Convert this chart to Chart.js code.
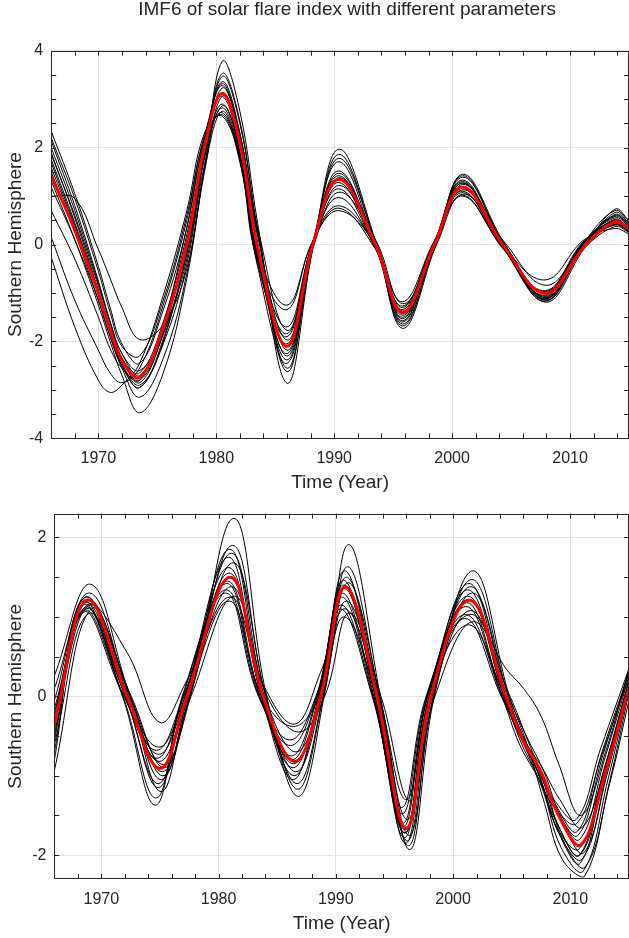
<!DOCTYPE html>
<html>
<head>
<meta charset="utf-8">
<title>IMF6 of solar flare index</title>
<script src="https://cdn.jsdelivr.net/npm/chart.js@4.4.1/dist/chart.umd.min.js"></script>
<style>
  html, body { margin: 0; padding: 0; background: #fff; }
  #wrap { position: relative; width: 629px; height: 938px; }
  canvas { position: absolute; left: 0; }
  #top { top: 0; }
  #bottom { top: 496px; }
</style>
</head>
<body>
<div id="wrap">
  <canvas id="top" width="629" height="496"></canvas>
  <canvas id="bottom" width="629" height="442"></canvas>
</div>
<script>
const TITLE = 'IMF6 of solar flare index with different parameters';
const X_LABEL = 'Time (Year)';
const Y_LABEL = 'Southern Hemisphere';
const X_TICKS = [1970, 1980, 1990, 2000, 2010];
const TOP_Y_TICKS = [-4, -2, 0, 2, 4];
const BOTTOM_Y_TICKS = [-2, 0, 2];

const topYears = [1966, 1968, 1970, 1971, 1972, 1973.5, 1975.5, 1977.5, 1979, 1980.5, 1982, 1983.5, 1986, 1988.2, 1990.4, 1993.5, 1995.8, 1998.5, 2000.9, 2004.3, 2007.9, 2011.2, 2013.8, 2015];
const topRed = [1.42, 0.3, -1.0, -1.75, -2.38, -2.74, -1.7, 0.0, 2.0, 3.12, 2.1, -0.05, -2.1, 0.0, 1.35, 0.0, -1.4, 0.0, 1.18, 0.0, -1.01, -0.05, 0.47, 0.33];
const top01 = [2.34, 1.05, -0.45, -1.30, -2.05, -2.45, -1.35, 0.35, 2.20, 3.28, 2.15, -0.25, -2.25, 0.05, 1.52, -0.05, -1.50, 0.05, 1.30, -0.05, -1.05, 0.05, 0.55, 0.38];
const top02 = [2.20, 0.95, -0.55, -1.40, -2.10, -2.30, -1.15, 0.60, 2.25, 3.06, 1.90, -0.40, -1.90, 0.08, 1.28, -0.08, -1.34, 0.08, 1.16, -0.06, -0.99, 0.06, 0.50, 0.36];
const top03 = [2.14, 0.80, -0.75, -1.60, -2.35, -2.85, -1.85, -0.20, 1.90, 3.53, 2.55, 0.30, -2.55, -0.05, 1.86, 0.06, -1.64, -0.05, 1.42, 0.05, -1.15, -0.04, 0.66, 0.45];
const top04 = [2.00, 0.70, -0.80, -1.60, -2.25, -2.70, -1.70, 0.05, 2.05, 3.36, 2.30, 0.05, -2.30, 0.00, 1.47, 0.00, -1.46, 0.00, 1.27, 0.00, -1.07, 0.00, 0.52, 0.34];
const top05 = [1.90, 0.55, -0.95, -1.75, -2.40, -2.80, -1.85, -0.30, 1.80, 3.23, 2.30, 0.20, -2.18, -0.04, 1.38, 0.08, -1.43, -0.08, 1.24, 0.06, -1.10, -0.05, 0.45, 0.30];
const top06 = [1.86, 0.60, -0.85, -1.60, -2.25, -2.60, -1.80, 0.10, 1.85, 2.90, 1.90, -0.30, -1.84, 0.06, 1.15, -0.08, -1.27, 0.06, 1.10, -0.08, -0.95, 0.08, 0.42, 0.28];
const top07 = [1.76, 0.45, -1.00, -1.80, -2.50, -2.95, -1.95, -0.15, 1.85, 3.47, 2.50, 0.30, -2.62, -0.03, 1.78, 0.05, -1.68, -0.04, 1.39, 0.04, -1.14, -0.03, 0.62, 0.42];
const top08 = [1.69, 0.40, -0.95, -1.70, -2.35, -2.65, -1.60, 0.20, 2.05, 3.32, 2.20, -0.10, -2.38, 0.03, 1.42, -0.03, -1.40, 0.03, 1.27, -0.03, -1.09, 0.03, 0.48, 0.32];
const top09 = [1.59, 0.35, -1.05, -1.80, -2.45, -2.90, -2.05, -0.40, 1.65, 2.86, 2.05, 0.35, -1.77, -0.06, 1.08, 0.10, -1.22, -0.09, 1.04, 0.09, -0.84, -0.06, 0.37, 0.25];
const top10 = [1.50, 0.25, -1.15, -1.90, -2.55, -3.15, -2.35, -0.60, 1.60, 3.78, 2.75, 0.45, -2.86, -0.08, 1.97, 0.09, -1.73, -0.10, 1.45, 0.08, -1.19, -0.08, 0.73, 0.50];
const top11 = [1.32, 0.10, -1.25, -2.00, -2.70, -3.47, -2.65, -0.70, 1.50, 3.06, 2.20, 0.20, -1.97, -0.05, 1.22, 0.05, -1.37, -0.06, 1.13, 0.05, -1.01, -0.05, 0.42, 0.28];
const top12 = [1.18, 0.10, -1.15, -1.90, -2.50, -2.95, -2.00, -0.10, 1.80, 2.82, 1.85, -0.20, -1.70, 0.05, 0.97, -0.06, -1.18, 0.08, 1.00, -0.04, -0.73, 0.10, 0.33, 0.22];
const top13 = [1.00, 0.95, -0.10, -0.70, -1.30, -1.96, -1.65, -0.50, 1.55, 2.75, 1.80, -0.15, -1.25, 0.08, 0.75, -0.10, -1.30, 0.05, 1.02, -0.08, -0.97, 0.05, 0.40, 0.26];
const top14 = [0.70, -0.30, -1.50, -2.15, -2.55, -2.80, -1.65, 0.35, 2.10, 2.72, 1.75, -0.35, -1.34, 0.08, 0.70, -0.03, -1.53, 0.05, 1.07, -0.03, -1.12, 0.03, 0.58, 0.40];
const top15 = [0.15, -1.15, -2.18, -2.65, -2.85, -2.55, -1.25, 0.50, 2.20, 2.68, 1.75, -0.30, -2.05, 0.05, 0.80, -0.05, -1.57, 0.03, 1.20, -0.03, -1.17, 0.04, 0.60, 0.42];
const top16 = [-0.26, -1.70, -2.80, -3.05, -2.90, -2.45, -1.05, 0.70, 2.30, 2.65, 1.70, -0.45, -2.45, 0.05, 1.71, -0.03, -1.60, 0.04, 1.33, -0.05, -1.12, 0.05, 0.70, 0.48];

// lower panel
const bottomYears = [1966, 1968.8, 1972.2, 1975, 1977.3, 1981, 1983.8, 1986.5, 1988.7, 1990.8, 1993.5, 1996, 1998.1, 2001.4, 2004.5, 2006, 2007.5, 2009, 2010.9, 2013, 2015];
const bottomRed = [-0.36, 1.21, 0.0, -0.91, 0.0, 1.5, 0.0, -0.82, 0.0, 1.38, 0.0, -1.66, 0.0, 1.21, 0.0, -0.56, -0.95, -1.5, -1.87, -0.95, 0.11];
const bot01 = [-0.20, 1.15, 0.55, -0.33, 0.20, 1.25, 0.15, -0.35, 0.30, 1.10, 0.10, -1.30, 0.15, 1.03, 0.35, 0.10, -0.25, -0.85, -1.50, -0.70, 0.35];
const bot02 = [0.26, 1.41, 0, -0.86, 0, 2.24, 0, -1.26, 0, 1.91, 0, -1.93, 0, 1.58, 0, -0.60, -1.35, -2.05, -2.27, -1.10, 0.05];
const bot03 = [0.10, 1.30, 0, -0.95, 0, 1.90, 0, -1.10, 0, 1.63, 0, -1.88, 0, 1.47, 0, -0.65, -1.20, -1.90, -2.20, -1.05, 0.10];
const bot04 = [-0.05, 1.25, 0, -0.82, 0, 1.85, 0, -1.00, 0, 1.58, 0, -1.85, 0, 1.42, 0, -0.50, -1.05, -1.70, -2.10, -0.90, 0.20];
const bot05 = [-0.15, 1.22, 0, -1.05, 0, 1.80, 0, -0.95, 0, 1.50, 0, -1.82, 0, 1.38, 0, -0.55, -1.10, -1.75, -2.05, -1.00, 0.15];
const bot06 = [-0.25, 1.18, 0, -1.10, 0, 1.75, 0, -0.90, 0, 1.46, 0, -1.78, 0, 1.34, 0, -0.60, -1.05, -1.60, -2.00, -0.95, 0.10];
const bot07 = [-0.30, 1.15, 0, -1.00, 0, 1.68, 0, -1.17, 0, 1.43, 0, -1.75, 0, 1.30, 0, -0.50, -0.95, -1.55, -1.97, -0.85, 0.20];
const bot08 = [-0.40, 1.12, 0, -1.15, 0, 1.62, 0, -1.05, 0, 1.40, 0, -1.72, 0, 1.26, 0, -0.55, -1.00, -1.65, -1.92, -0.95, 0.10];
const bot09 = [-0.45, 1.10, 0, -0.73, 0, 1.55, 0, -0.85, 0, 1.36, 0, -1.68, 0, 1.22, 0, -0.50, -0.95, -1.45, -1.80, -0.80, 0.25];
const bot10 = [-0.50, 1.08, 0, -0.78, 0, 1.45, 0, -0.80, 0, 1.30, 0, -1.64, 0, 1.18, 0, -0.45, -0.90, -1.40, -1.75, -0.75, 0.30];
const bot11 = [-0.55, 1.06, 0, -0.68, 0, 1.42, 0, -0.75, 0, 1.25, 0, -1.60, 0, 1.13, 0, -0.50, -0.85, -1.35, -1.70, -0.70, 0.30];
const bot12 = [-0.60, 1.04, 0, -1.20, 0, 1.38, 0, -0.70, 0, 1.20, 0, -1.55, 0, 1.08, 0, -0.55, -0.90, -1.30, -1.65, -0.80, 0.20];
const bot13 = [-0.70, 1.15, 0, -1.28, 0, 1.34, 0, -0.62, 0, 1.15, 0, -1.48, 0, 1.03, 0, -0.60, -1.00, -1.40, -1.60, -0.75, 0.25];
const bot14 = [-0.80, 1.20, 0, -1.37, 0, 1.30, 0, -0.55, 0, 1.10, 0, -1.40, 0, 0.98, 0, -0.45, -0.90, -1.30, -1.55, -0.65, 0.35];
const bot15 = [-0.93, 1.10, 0, -0.90, 0, 1.26, 0, -0.45, 0, 1.05, 0, -1.32, 0, 0.94, 0, -0.55, -1.10, -1.80, -2.15, -1.10, -0.05];
const bot16 = [-0.35, 1.25, 0, -0.64, 0, 1.20, 0, -0.38, 0, 1.00, 0, -1.72, 0, 0.90, 0, -0.50, -0.95, -1.60, -2.00, -1.00, 0.15];
// how far (years) each lower curve runs behind (+) or ahead (-) of the red one
const bottomLag = [0, 0.3, 0.2, -0.05, 0.1, -0.15, 0.25, -0.15, -0.1, -0.25, -0.3, 0.1, -0.35, -0.4, 0.35, -0.1];

const topBlack = [top01, top02, top03, top04, top05, top06, top07, top08, top09, top10, top11, top12, top13, top14, top15, top16];
const bottomBlack = [bot01, bot02, bot03, bot04, bot05, bot06, bot07, bot08, bot09, bot10, bot11, bot12, bot13, bot14, bot15, bot16];

const FONT = "'Liberation Sans', Arial, sans-serif";
const INK = '#262626';
const GRID = '#e3e3e3';

function series(years, values, color, width, lag) {
  const last = years.length - 1;
  return {
    // the two end points stay on the frame edges, the inner ones carry the lag
    data: years.map((x, i) => ({ x: (i > 0 && i < last) ? x + lag : x, y: values[i] })),
    borderColor: color,
    borderWidth: width,
    pointRadius: 0,
    fill: false,
    tension: 0.4,
    clip: 0
  };
}

// box round the axes, with the little inward ticks on all four sides
const frame = {
  id: 'frame',
  afterDraw(chart) {
    const { ctx, chartArea: a, scales } = chart;
    const x = scales.x, y = scales.y;
    ctx.save();
    ctx.strokeStyle = INK;
    ctx.lineWidth = 1;
    ctx.beginPath();
    for (let v = 1968; v <= 2014; v += 2) {
      const px = Math.round(x.getPixelForValue(v)) + 0.5;
      ctx.moveTo(px, a.bottom); ctx.lineTo(px, a.bottom - 5);
      ctx.moveTo(px, a.top); ctx.lineTo(px, a.top + 5);
    }
    for (let v = Math.ceil(y.min * 2) / 2; v <= y.max + 1e-9; v += 0.5) {
      const py = Math.round(y.getPixelForValue(v)) + 0.5;
      ctx.moveTo(a.left, py); ctx.lineTo(a.left + 5, py);
      ctx.moveTo(a.right, py); ctx.lineTo(a.right - 5, py);
    }
    ctx.stroke();
    ctx.strokeRect(Math.round(a.left) + 0.5, Math.round(a.top) + 0.5,
      Math.round(a.right - a.left) - 1, Math.round(a.bottom - a.top) - 1);
    ctx.restore();
  }
};

const figTitle = {
  id: 'figTitle',
  afterDraw(chart) {
    const { ctx, chartArea: a } = chart;
    ctx.save();
    ctx.fillStyle = INK;
    ctx.font = '19px ' + FONT;
    ctx.textAlign = 'center';
    ctx.textBaseline = 'middle';
    ctx.fillText(TITLE, (a.left + a.right) / 2 + 7, 10);
    ctx.restore();
  }
};

function options(cfg) {
  return {
    responsive: false,
    animation: false,
    events: [],
    layout: { padding: { top: cfg.padTop, left: 0, right: 0, bottom: 0 } },
    plugins: { legend: { display: false }, tooltip: { enabled: false }, title: { display: false } },
    scales: {
      x: {
        type: 'linear', min: 1966, max: 2015,
        afterBuildTicks: s => { s.ticks = X_TICKS.map(v => ({ value: v })); },
        afterFit: s => { s.height = cfg.xHeight; },
        grid: { color: GRID, drawTicks: false },
        border: { display: false },
        ticks: { color: INK, font: { family: FONT, size: 16 }, padding: 11, autoSkip: false, maxRotation: 0, callback: v => String(v) },
        title: { display: true, text: X_LABEL, color: INK, font: { family: FONT, size: 19 }, padding: { top: 0, bottom: cfg.xTitlePad } }
      },
      y: {
        type: 'linear', min: cfg.yMin, max: cfg.yMax,
        afterBuildTicks: s => { s.ticks = cfg.yTicks.map(v => ({ value: v })); },
        afterFit: s => { s.width = cfg.yWidth; },
        grid: { color: GRID, drawTicks: false },
        border: { display: false },
        ticks: { color: INK, font: { family: FONT, size: 16 }, padding: 8, autoSkip: false, callback: v => String(v) },
        title: { display: true, text: Y_LABEL, color: INK, font: { family: FONT, size: 19 }, padding: { top: 4, bottom: 0 } }
      }
    }
  };
}

// Chart.js paints dataset 0 last, so the red mean curve goes first to sit on top
function datasets(years, black, red, lags) {
  const list = [series(years, red, '#ff0000', 3, 0)];
  black.forEach((vals, i) => list.push(series(years, vals, '#000000', 1, lags ? lags[i] : 0)));
  return list;
}

new Chart(document.getElementById('top'), {
  type: 'line',
  data: { datasets: datasets(topYears, topBlack, topRed, null) },
  options: options({ padTop: 50.7, xHeight: 57.6, xTitlePad: 2, yWidth: 51.2, yMin: -4, yMax: 4, yTicks: TOP_Y_TICKS }),
  plugins: [frame, figTitle]
});

new Chart(document.getElementById('bottom'), {
  type: 'line',
  data: { datasets: datasets(bottomYears, bottomBlack, bottomRed, bottomLag) },
  options: options({ padTop: 7.3, xHeight: 59, xTitlePad: 3, yWidth: 54.4, yMin: -2.3, yMax: 2.3, yTicks: BOTTOM_Y_TICKS }),
  plugins: [frame]
});
</script>
</body>
</html>
